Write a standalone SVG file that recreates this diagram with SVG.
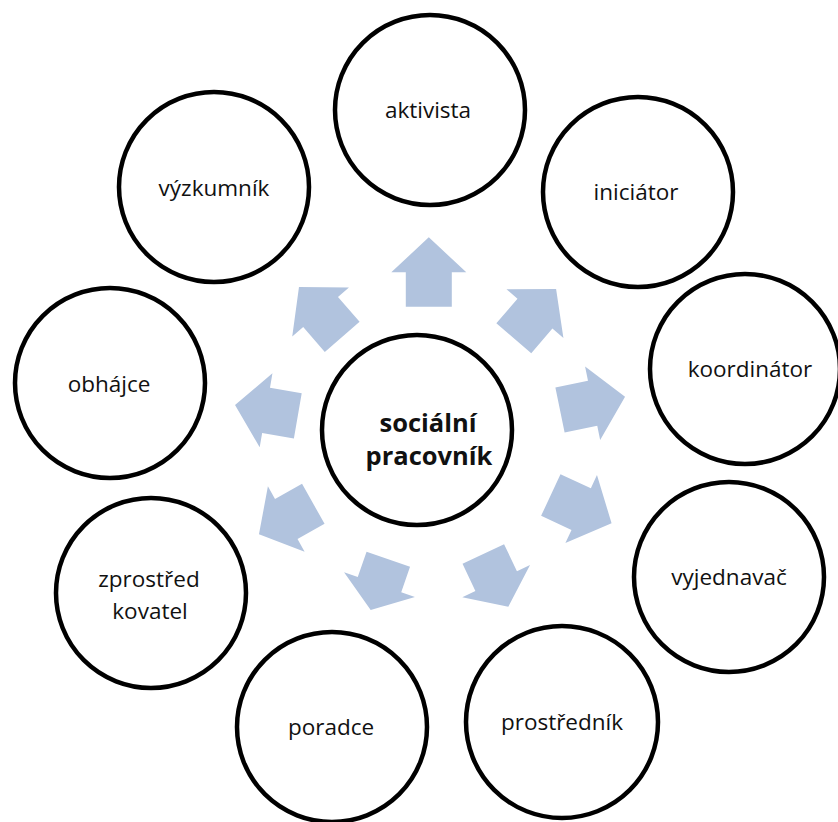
<svg xmlns="http://www.w3.org/2000/svg" width="838" height="822" viewBox="0 0 838 822">
  <style>
    .ring { fill: #ffffff; stroke: #000000; stroke-width: 4.5; }
    .lbl { font-family: "Open Sans", "Noto Sans", "DejaVu Sans", sans-serif; font-size: 22.5px; fill: #111111; text-anchor: middle; }
    .hub { font-family: "Open Sans", "Noto Sans", "DejaVu Sans", sans-serif; font-size: 25.5px; font-weight: bold; fill: #111111; text-anchor: middle; }
    .arrow { fill: #b1c3de; stroke: none; }
  </style>

  <rect width="838" height="822" fill="#ffffff"/>

  <!-- block arrows radiating from the hub towards each role -->
  <g id="connectors">
    <path class="arrow" transform="translate(428.8,306.7) rotate(-90)" d="M0,-23 H34.4 V-37.5 L69.4,0 L34.4,37.5 V23 H0 Z"/>
    <path class="arrow" transform="translate(513.8,338.3) rotate(-49.4)" d="M0,-23 H32.5 V-37.5 L65,0 L32.5,37.5 V23 H0 Z"/>
    <path class="arrow" transform="translate(560,410) rotate(-11.6)" d="M0,-23 H33.3 V-37.5 L66.4,0 L33.3,37.5 V23 H0 Z"/>
    <path class="arrow" transform="translate(550.8,495) rotate(24.9)" d="M0,-23 H33.5 V-37.5 L67,0 L33.5,37.5 V23 H0 Z"/>
    <path class="arrow" transform="translate(483.3,554) rotate(64.6)" d="M0,-23 H30 V-37.5 L58.3,0 L30,37.5 V23 H0 Z"/>
    <path class="arrow" transform="translate(388.3,559.2) rotate(109.1)" d="M0,-23 H26.9 V-37.5 L53.8,0 L26.9,37.5 V23 H0 Z"/>
    <path class="arrow" transform="translate(313.3,503.8) rotate(150.7)" d="M0,-23 H31 V-37.5 L62.3,0 L31,37.5 V23 H0 Z"/>
    <path class="arrow" transform="translate(297.8,415.8) rotate(189.8)" d="M0,-23 H32.2 V-37.5 L63.7,0 L32.2,37.5 V23 H0 Z"/>
    <path class="arrow" transform="translate(342.2,336.9) rotate(-130.9)" d="M0,-23 H33 V-37.5 L66,0 L33,37.5 V23 H0 Z"/>
  </g>

  <g id="hub">
    <circle class="ring" cx="417" cy="430" r="95"/>
    <text class="hub" x="428" y="432">sociální</text>
    <text class="hub" x="429" y="465">pracovník</text>
  </g>

  <g id="aktivista">
    <circle class="ring" cx="430" cy="110" r="95"/>
    <text class="lbl" x="428" y="118">aktivista</text>
  </g>

  <g id="iniciator">
    <circle class="ring" cx="638" cy="192" r="95"/>
    <text class="lbl" x="636" y="200">iniciátor</text>
  </g>

  <g id="koordinator">
    <circle class="ring" cx="745" cy="369" r="95"/>
    <text class="lbl" x="750" y="377">koordinátor</text>
  </g>

  <g id="vyjednavac">
    <circle class="ring" cx="729" cy="577" r="95"/>
    <text class="lbl" x="729" y="585">vyjednavač</text>
  </g>

  <g id="prostrednik">
    <circle class="ring" cx="562" cy="722" r="96"/>
    <text class="lbl" x="562" y="730">prostředník</text>
  </g>

  <g id="poradce">
    <circle class="ring" cx="332" cy="727" r="95"/>
    <text class="lbl" x="331" y="735">poradce</text>
  </g>

  <g id="zprostredkovatel">
    <circle class="ring" cx="151" cy="593" r="95"/>
    <text class="lbl" x="149" y="587">zprostřed</text>
    <text class="lbl" x="150" y="619">kovatel</text>
  </g>

  <g id="obhajce">
    <circle class="ring" cx="110" cy="383" r="95"/>
    <text class="lbl" x="109" y="392">obhájce</text>
  </g>

  <g id="vyzkumnik">
    <circle class="ring" cx="214" cy="187" r="95"/>
    <text class="lbl" x="214" y="196">výzkumník</text>
  </g>
</svg>
